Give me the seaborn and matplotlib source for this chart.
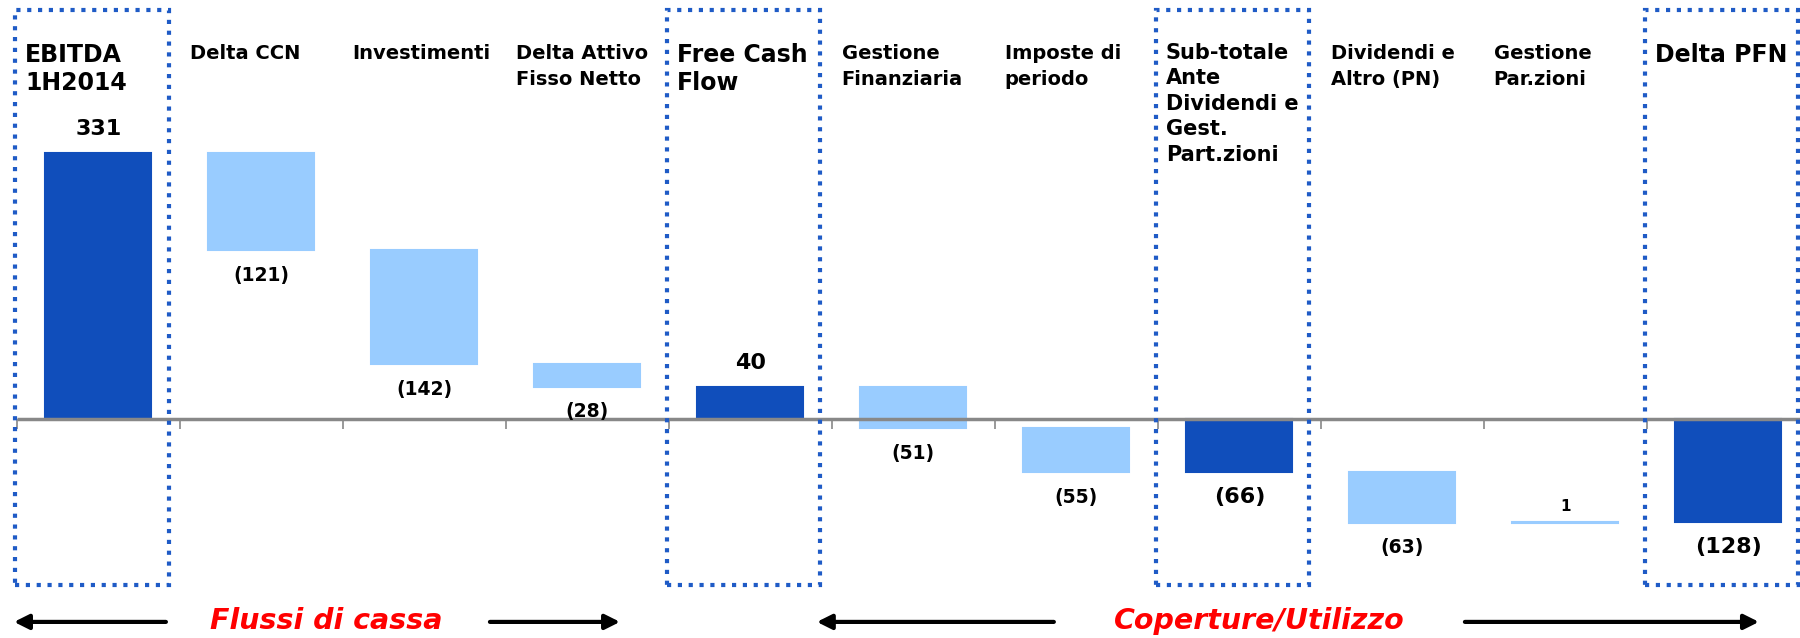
import numpy as np
import pandas as pd
import matplotlib
matplotlib.use("Agg")
import matplotlib.pyplot as plt
from matplotlib.patches import Rectangle
import seaborn as sns

# Dati del grafico
categorie = ["EBITDA\n1H2014", "Delta CCN", "Investimenti", "Delta Attivo\nFisso Netto",
             "Free Cash\nFlow", "Gestione\nFinanziaria", "Imposte di\nperiodo",
             "Sub-totale\nAnte\nDividendi e\nGest.\nPart.zioni", "Dividendi e\nAltro (PN)",
             "Gestione\nPar.zioni", "Delta PFN"]
valori = [331, -121, -142, -28, 40, -51, -55, -66, -63, 1, -128]
totali = [True, False, False, False, True, False, False, True, False, False, True]
etichette = ["331", "(121)", "(142)", "(28)", "40", "(51)", "(55)", "(66)", "(63)", "1", "(128)"]
sezioni = ["Flussi di cassa", "Coperture/Utilizzo"]

blu_scuro = "#104EBB"
blu_chiaro = "#99CCFF"
blu_box = "#1F5BC6"
grigio = "#888888"

# Calcolo waterfall
basso, alto = [], []
corrente = 0
for v, t in zip(valori, totali):
    if t:
        inizio, fine = 0, v
    else:
        inizio, fine = corrente, corrente + v
    corrente = fine
    basso.append(min(inizio, fine))
    alto.append(max(inizio, fine))

df = pd.DataFrame({"categoria": categorie,
                   "altezza": np.array(alto) - np.array(basso)})

sns.set_theme(style="white")
plt.rcParams["font.family"] = ["DejaVu Sans"]
plt.rcParams["text.color"] = "black"

fig = plt.figure(figsize=(18, 6.38), dpi=100)
ax = fig.add_axes([0, 0, 1, 1])

sns.barplot(data=df, x="categoria", y="altezza", width=0.65, color=blu_chiaro,
            errorbar=None, ax=ax, zorder=2)

for patch, b, t in zip(ax.patches, basso, totali):
    patch.set_y(b)
    c = blu_scuro if t else blu_chiaro
    patch.set_facecolor(c)
    patch.set_edgecolor(c)
    patch.set_linewidth(1.5)

ax.set_xlim(-0.604, 10.44)
ax.set_ylim(-272, 521)
ax.axis("off")

# linea dello zero e tacche
ax.hlines(0, -0.5, 10.44, color=grigio, lw=2.5, zorder=3)
ax.vlines(np.arange(-0.5, 10.0, 1), -12, 0, color=grigio, lw=1.2, zorder=3)

# etichette dei valori
for i, (v, t, lab) in enumerate(zip(valori, totali, etichette)):
    dim = 16 if t else 13.5
    if v > 0:
        y, off = alto[i], 17
    else:
        y, off = basso[i], -18
    if v == 1:
        dim, off = 11, 11
    ax.annotate(lab, xy=(i, y), xytext=(0, off), textcoords="offset points",
                ha="center", va="center", fontsize=dim, fontweight="bold",
                color="black", zorder=5)

# etichette delle categorie e riquadri tratteggiati
for i, (cat, t) in enumerate(zip(categorie, totali)):
    if t:
        lungo = cat.count("\n") > 2
        ax.text(i - 0.45, 468, cat, ha="left", va="top", fontsize=15 if lungo else 17,
                fontweight="bold", color="black", linespacing=1.35 if lungo else 1.25)
        ax.add_patch(Rectangle((i - 0.51, -206), 0.94, 714, fill=False,
                               ec=blu_box, lw=3, ls=(0, (1.0, 1.6)), zorder=4))
    else:
        ax.text(i - 0.44, 466, cat, ha="left", va="top", fontsize=14,
                fontweight="bold", color="black", linespacing=1.45)

# sezioni in basso con frecce
ax.text(1.40, -251, sezioni[0], ha="center", va="center", fontsize=20.5,
        fontweight="bold", fontstyle="italic", color="#FF0000")
ax.text(7.12, -251, sezioni[1], ha="center", va="center", fontsize=20.5,
        fontweight="bold", fontstyle="italic", color="#FF0000")

frecce = [(0.414, -0.518), (2.402, 3.200), (5.862, 4.408), (8.384, 10.188)]
for x0, x1 in frecce:
    ax.annotate("", xy=(x1, -252), xytext=(x0, -252),
                arrowprops=dict(arrowstyle="-|>", lw=3, color="black",
                                mutation_scale=22, shrinkA=0, shrinkB=0))

fig.savefig("out.png", dpi=100)
